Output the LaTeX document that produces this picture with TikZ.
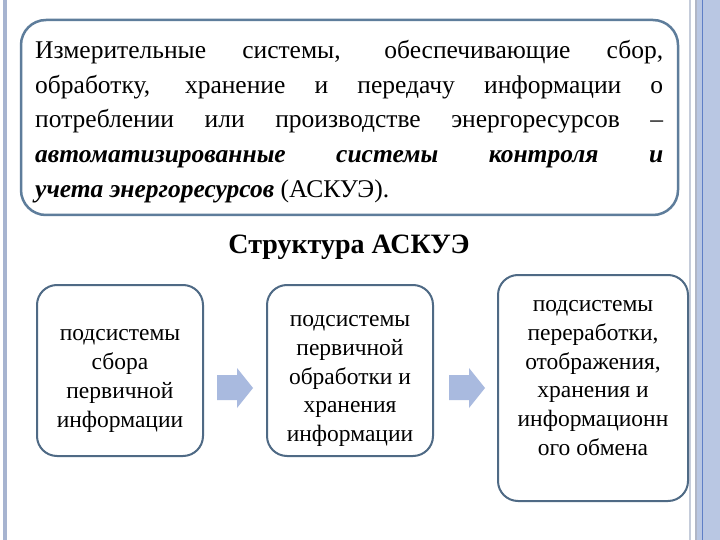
\documentclass[tikz,border=0pt]{standalone}
\usepackage{fontspec}
\setmainfont{Liberation Serif}
\definecolor{topframe}{HTML}{5E7D9B}
\definecolor{boxframe}{HTML}{4F6A85}
\definecolor{arrowfill}{HTML}{A9BADF}
\definecolor{leftbar}{HTML}{A7B4D0}
\definecolor{rstripeA}{HTML}{C5CCDA}
\definecolor{rstripeB}{HTML}{B0B6C6}
\definecolor{rfill}{HTML}{B9C7E3}
\definecolor{rline}{HTML}{5F7FC6}
\tikzset{
  topbox/.style={draw=topframe, line width=2.5pt, rounded corners=25pt, fill=white},
  subbox/.style={draw=boxframe, line width=2pt, rounded corners=20pt, fill=white},
  mainline/.style={anchor=base west, inner sep=0pt, font=\fontsize{25.5}{28}\selectfont},
  boxtext/.style={align=center, inner sep=0pt, font=\fontsize{23.5}{28.7}\selectfont},
  titletext/.style={anchor=base, inner sep=0pt, font=\fontsize{28}{32}\selectfont\bfseries},
  blockarrow/.style={fill=arrowfill, draw=none}
}
\newcommand{\jl}[1]{\makebox[628pt][s]{#1}}
\begin{document}
\begin{tikzpicture}[x=1pt,y=-1pt]
\useasboundingbox (0,0) rectangle (720,540);
\fill[white] (0,0) rectangle (720,540);
% side decorations
\fill[leftbar] (3,0) rectangle (7,540);
\fill[rstripeA] (689,0) rectangle (691,540);
\fill[rstripeB] (695,0) rectangle (697,540);
\fill[rfill] (697,0) rectangle (720,540);
\fill[rline] (701.5,0) rectangle (703,540);
% top box
\node[topbox, minimum width=657pt, minimum height=195pt] (top) at (349.5,117.5) {};
\node[mainline] (l1) at (35,59) {\jl{Измерительные системы, обеспечивающие сбор,}};
\node[mainline] (l2) at (35,93.5) {\jl{обработку, хранение и передачу информации о}};
\node[mainline] (l3) at (35,128) {\jl{потреблении или производстве энергоресурсов –}};
\node[mainline] (l4) at (35,162.5) {\jl{\bfseries\itshape автоматизированные системы контроля и}};
\node[mainline] (l5) at (35,197) {{\bfseries\itshape учета энергоресурсов} (АСКУЭ).};
% title
\node[titletext] (title) at (349,253) {Структура АСКУЭ};
% boxes
\node[subbox, minimum width=166pt, minimum height=171pt] (b1) at (120,370.5) {};
\node[subbox, minimum width=166pt, minimum height=171pt] (b2) at (350,370.5) {};
\node[subbox, minimum width=190pt, minimum height=226pt] (b3) at (593,388) {};
\node[boxtext] (t1) at (120,381) {подсистемы\\сбора\\первичной\\информации};
\node[boxtext] (t2) at (350,381) {подсистемы\\первичной\\обработки и\\хранения\\информации};
\node[boxtext] (t3) at (593,378) {подсистемы\\переработки,\\отображения,\\хранения и\\информационн\\ого обмена};
% block arrows
\fill[blockarrow] (217,375) -- (237,375) -- (237,368) -- (253,388) -- (237,408) -- (237,400) -- (217,400) -- cycle;
\fill[blockarrow] (449,375) -- (469,375) -- (469,368) -- (485,388) -- (469,408) -- (469,400) -- (449,400) -- cycle;
\end{tikzpicture}
\end{document}
